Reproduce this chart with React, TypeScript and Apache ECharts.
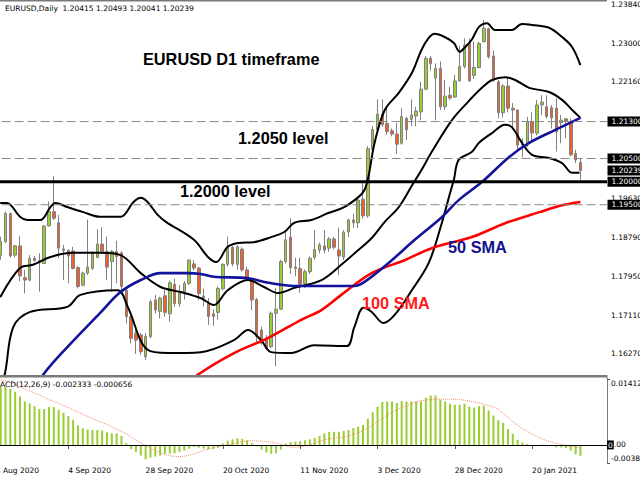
import React, { useEffect, useRef } from "react";
import * as echarts from "echarts";

// ---------- categories (trading days) ----------
const augDays = [13, 14, 17, 18, 19, 20, 21, 24, 25, 26, 27, 28, 31];
const sepDays = [1, 2, 3, 4, 7, 8, 9, 10, 11, 14, 15, 16, 17, 18, 21, 22, 23, 24, 25, 28, 29, 30];
const octDays = [1, 2, 5, 6, 7, 8, 9, 12, 13, 14, 15, 16, 19, 20, 21, 22, 23, 26, 27, 28, 29, 30];
const novDays = [2, 3, 4, 5, 6, 9, 10, 11, 12, 13, 16, 17, 18, 19, 20, 23, 24, 25, 26, 27, 30];
const decDays = [1, 2, 3, 4, 7, 8, 9, 10, 11, 14, 15, 16, 17, 18, 21, 22, 23, 24, 28, 29, 30, 31];
const janDays = [4, 5, 6, 7, 8, 11, 12, 13, 14, 15, 18, 19, 20, 21, 22, 25, 26, 27, 28, 29];
const febDays = [1, 2, 3];
const shiftBars = 5; // empty space on the right (chart shift)
const labelEvery = 16;

// ---------- candles ----------
const opens = [
  1.1785, 1.1812, 1.1841, 1.1870, 1.1931, 1.1841, 1.1861, 1.1792, 1.1787, 1.1834,
  1.1829, 1.1823, 1.1904, 1.1935, 1.1911, 1.1854, 1.1851, 1.1850, 1.1814, 1.1776,
  1.1802, 1.1812, 1.1836, 1.1865, 1.1849, 1.1827, 1.1849, 1.1846, 1.1765, 1.1708,
  1.1672, 1.1668, 1.1621, 1.1665, 1.1744, 1.1719, 1.1753, 1.1714, 1.1778, 1.1736,
  1.1762, 1.1780, 1.1822, 1.1813, 1.1752, 1.1737, 1.1714, 1.1717, 1.1768, 1.1821,
  1.1858, 1.1821, 1.1854, 1.1809, 1.1787, 1.1745, 1.1679, 1.1661, 1.1643, 1.1715,
  1.1724, 1.1827, 1.1880, 1.1815, 1.1812, 1.1779, 1.1805, 1.1836, 1.1852, 1.1861,
  1.1856, 1.1876, 1.1852, 1.1837, 1.1891, 1.1917, 1.1911, 1.1962, 1.1926, 1.2070,
  1.2113, 1.2146, 1.2126, 1.2110, 1.2103, 1.2083, 1.2137, 1.2135, 1.2142, 1.2151,
  1.2200, 1.2267, 1.2224, 1.2245, 1.2162, 1.2187, 1.2183, 1.2218, 1.2249, 1.2299,
  1.2230, 1.2247, 1.2303, 1.2331, 1.2272, 1.2216, 1.2149, 1.2207, 1.2159, 1.2155,
  1.2079, 1.2083, 1.2130, 1.2105, 1.2166, 1.2162, 1.2160, 1.2159, 1.2128, 1.2136,
  1.2128, 1.2061, 1.20415,
];
const closes = [
  1.1812, 1.1842, 1.1870, 1.1931, 1.1839, 1.1861, 1.1796, 1.1787, 1.1834, 1.1829,
  1.1825, 1.1904, 1.1935, 1.1921, 1.1856, 1.1851, 1.1839, 1.1812, 1.1773, 1.1802,
  1.1815, 1.1845, 1.1865, 1.1849, 1.1815, 1.1849, 1.1838, 1.1773, 1.1708, 1.1661,
  1.1657, 1.1632, 1.1665, 1.1740, 1.1722, 1.1748, 1.1717, 1.1781, 1.1736, 1.1762,
  1.1780, 1.1830, 1.1813, 1.1758, 1.1748, 1.1708, 1.1708, 1.1769, 1.1821, 1.1858,
  1.1822, 1.1859, 1.1809, 1.1789, 1.1744, 1.1665, 1.1650, 1.1639, 1.1715, 1.1724,
  1.1827, 1.1874, 1.1814, 1.1812, 1.1778, 1.1805, 1.1834, 1.1853, 1.1863, 1.1852,
  1.1876, 1.1858, 1.1839, 1.1891, 1.1917, 1.1911, 1.1960, 1.1926, 1.2071, 1.2113,
  1.2146, 1.2123, 1.2108, 1.2103, 1.2081, 1.2141, 1.2112, 1.2144, 1.2153, 1.2200,
  1.2267, 1.2255, 1.2245, 1.2162, 1.2185, 1.2181, 1.2218, 1.2249, 1.2296, 1.2218,
  1.2247, 1.2299, 1.2332, 1.2270, 1.2220, 1.2149, 1.2207, 1.2159, 1.2155, 1.2079,
  1.2081, 1.2130, 1.2105, 1.2166, 1.2172, 1.2141, 1.2138, 1.2108, 1.2133, 1.2131,
  1.2058, 1.2047, 1.20239,
];
const lows = [
  1.1775, 1.1805, 1.1831, 1.1867, 1.1836, 1.1836, 1.1784, 1.1758, 1.1784, 1.1827,
  1.1762, 1.1822, 1.1903, 1.1917, 1.1834, 1.1787, 1.1780, 1.1810, 1.1769, 1.1773,
  1.1798, 1.1809, 1.1834, 1.1845, 1.1787, 1.1762, 1.1780, 1.1765, 1.1693, 1.1650,
  1.1627, 1.1625, 1.1614, 1.1661, 1.1715, 1.1704, 1.1708, 1.1697, 1.1729, 1.1729,
  1.1745, 1.1776, 1.1808, 1.1744, 1.1730, 1.1690, 1.1688, 1.1701, 1.1765, 1.1816,
  1.1817, 1.1809, 1.1805, 1.1786, 1.1722, 1.1650, 1.1647, 1.1636, 1.1639, 1.1600,
  1.1722, 1.1823, 1.1800, 1.1795, 1.1760, 1.1770, 1.1800, 1.1831, 1.1845, 1.1845,
  1.1848, 1.1853, 1.1798, 1.1830, 1.1880, 1.1900, 1.1900, 1.1920, 1.1922, 1.2060,
  1.2105, 1.2118, 1.2101, 1.2098, 1.2060, 1.2080, 1.2090, 1.2120, 1.2120, 1.2133,
  1.2199, 1.2240, 1.2133, 1.2155, 1.2155, 1.2177, 1.2181, 1.2216, 1.2245, 1.2216,
  1.2222, 1.2245, 1.2301, 1.2266, 1.2216, 1.2137, 1.2139, 1.2150, 1.2112, 1.2069,
  1.2053, 1.2075, 1.2090, 1.2100, 1.2144, 1.2137, 1.2115, 1.2065, 1.2083, 1.2094,
  1.2055, 1.2040, 1.20041,
];
const highs = [
  1.1830, 1.1850, 1.1881, 1.1935, 1.1933, 1.1863, 1.1882, 1.1809, 1.1841, 1.1839,
  1.1845, 1.1906, 1.1957, 1.2012, 1.1928, 1.1863, 1.1854, 1.1859, 1.1817, 1.1805,
  1.1918, 1.1849, 1.1897, 1.1901, 1.1881, 1.1852, 1.1872, 1.1849, 1.1769, 1.1719,
  1.1679, 1.1672, 1.1672, 1.1744, 1.1755, 1.1751, 1.1765, 1.1786, 1.1790, 1.1776,
  1.1785, 1.1832, 1.1830, 1.1816, 1.1768, 1.1748, 1.1724, 1.1773, 1.1823, 1.1881,
  1.1861, 1.1862, 1.1858, 1.1816, 1.1789, 1.1748, 1.1686, 1.1668, 1.1719, 1.1770,
  1.1831, 1.1895, 1.1921, 1.1835, 1.1835, 1.1810, 1.1838, 1.1895, 1.1868, 1.1895,
  1.1880, 1.1880, 1.1900, 1.1895, 1.1920, 1.1930, 1.1965, 1.2000, 1.2077, 1.2120,
  1.2178, 1.2178, 1.2162, 1.2115, 1.2127, 1.2159, 1.2140, 1.2178, 1.2162, 1.2216,
  1.2272, 1.2272, 1.2256, 1.2260, 1.2220, 1.2205, 1.2231, 1.2294, 1.2310, 1.2310,
  1.2303, 1.2303, 1.2350, 1.2333, 1.2284, 1.2220, 1.2211, 1.2226, 1.2170, 1.2157,
  1.2094, 1.2140, 1.2150, 1.2177, 1.2187, 1.2187, 1.2166, 1.2180, 1.2144, 1.2137,
  1.2137, 1.2069, 1.20493,
];

// ---------- indicators as [bar index, value] ----------
const bbUpper: [number, number][] = [
  [1.9, 1.1954], [3.3, 1.1954], [6.0, 1.1924], [7.5, 1.1917], [10.2, 1.1917], [12.3, 1.1945],
  [13.3, 1.1954], [15.8, 1.1945], [19.1, 1.1934], [22.6, 1.1924], [26.8, 1.1924], [29.5, 1.1956],
  [31.0, 1.1965], [32.4, 1.1956], [34.5, 1.1928], [36.2, 1.1913], [42.0, 1.1874], [44.9, 1.1837],
  [46.6, 1.1826], [49.0, 1.1859], [51.1, 1.1867], [54.4, 1.1869], [58.0, 1.1880], [60.7, 1.1891],
  [62.8, 1.1911], [66.3, 1.1917], [69.8, 1.1932], [73.1, 1.1945], [76.1, 1.1967], [77.3, 1.1982],
  [78.1, 1.2010], [79.4, 1.2084], [81.5, 1.2155], [84.4, 1.2192], [87.1, 1.2235], [89.1, 1.2285],
  [90.6, 1.2311], [91.8, 1.2320], [93.9, 1.2313], [95.8, 1.2300], [97.0, 1.2281], [98.1, 1.2291],
  [99.5, 1.2307], [101.0, 1.2335], [102.7, 1.2343], [104.3, 1.2328], [107.8, 1.2328], [109.9, 1.2341],
  [112.0, 1.2339], [115.5, 1.2333], [118.2, 1.2313], [120.3, 1.2291], [122.0, 1.2252],
];
const bbMiddle: [number, number][] = [
  [1.9, 1.1750], [6.0, 1.1813], [8.7, 1.1820], [12.3, 1.1837], [17.0, 1.1846], [22.6, 1.1846],
  [26.8, 1.1841], [31.0, 1.1802], [35.1, 1.1772], [39.3, 1.1761], [43.4, 1.1748], [46.1, 1.1733],
  [49.0, 1.1765], [53.2, 1.1787], [56.5, 1.1772], [59.4, 1.1759], [62.8, 1.1770], [68.4, 1.1787],
  [72.5, 1.1820], [75.6, 1.1848], [78.8, 1.1878], [81.5, 1.1913], [84.4, 1.1945], [87.1, 1.1991],
  [89.1, 1.2025], [91.2, 1.2064], [95.4, 1.2133], [98.5, 1.2170], [101.6, 1.2203], [103.7, 1.2220],
  [106.4, 1.2226], [108.5, 1.2220], [111.4, 1.2203], [115.5, 1.2194], [118.2, 1.2177], [120.3, 1.2155],
  [122.0, 1.2138],
];
const bbLower: [number, number][] = [
  [1.5, 1.1540], [2.9, 1.1586], [4.6, 1.1685], [8.1, 1.1718], [15.8, 1.1729], [18.5, 1.1755],
  [26.2, 1.1765], [28.3, 1.1729], [32.4, 1.1636], [36.6, 1.1629], [43.4, 1.1631], [50.3, 1.1657],
  [53.2, 1.1679], [55.9, 1.1657], [58.0, 1.1631], [62.1, 1.1629], [66.9, 1.1646], [73.6, 1.1644],
  [75.2, 1.1685], [77.1, 1.1727], [78.8, 1.1718], [81.2, 1.1694], [83.5, 1.1711], [87.1, 1.1765],
  [90.6, 1.1824], [93.3, 1.1910], [94.8, 1.1967], [95.8, 1.2004], [96.8, 1.2047], [99.5, 1.2064],
  [101.0, 1.2084], [103.7, 1.2105], [106.4, 1.2123], [107.8, 1.2118], [109.9, 1.2084], [112.0, 1.2058],
  [115.5, 1.2051], [118.2, 1.2040], [120.3, 1.2019], [121.8, 1.2019],
];
const sma50: [number, number][] = [
  [8.0, 1.1530], [10.8, 1.1582], [15.8, 1.1642], [22.6, 1.1716], [26.8, 1.1761], [31.0, 1.1787],
  [35.1, 1.1802], [40.7, 1.1802], [43.4, 1.1800], [46.1, 1.1794], [53.2, 1.1791], [57.4, 1.1781],
  [62.8, 1.1774], [68.4, 1.1774], [75.2, 1.1774], [77.3, 1.1783], [82.3, 1.1824], [87.7, 1.1874],
  [93.3, 1.1923], [96.8, 1.1960], [101.6, 1.1999], [107.2, 1.2053], [111.4, 1.2084], [116.8, 1.2112],
  [122.0, 1.2138],
];
const sma100: [number, number][] = [
  [38.0, 1.1540], [42.8, 1.1582], [50.3, 1.1629], [57.4, 1.1662], [64.2, 1.1701], [68.4, 1.1722],
  [72.5, 1.1755], [78.8, 1.1802], [85.6, 1.1830], [91.2, 1.1856], [99.5, 1.1880], [106.4, 1.1910],
  [113.5, 1.1934], [118.2, 1.1949], [122.0, 1.1956],
];

// ---------- MACD(12,26,9) ----------
const macdMain = [
  0.0128, 0.0130, 0.0124, 0.0125, 0.0120, 0.0114, 0.0104, 0.0093, 0.0089, 0.0083,
  0.0077, 0.0077, 0.0081, 0.0081, 0.0075, 0.0069, 0.0062, 0.0054, 0.0042, 0.0036,
  0.0033, 0.0032, 0.0032, 0.0031, 0.0027, 0.0025, 0.0025, 0.0019, 0.0004, -0.0009,
  -0.0015, -0.0023, -0.0031, -0.0027, -0.0025, -0.0023, -0.0019, -0.0019, -0.0018, -0.0015,
  -0.0012, -0.0008, -0.0004, -0.0006, -0.0008, -0.0009, -0.0009, -0.0006, 0.0003, 0.0009,
  0.0012, 0.0014, 0.0013, 0.0010, 0.0004, -0.0003, -0.0010, -0.0016, -0.0019, -0.0018,
  -0.0010, 0.0003, 0.0006, 0.0007, 0.0008, 0.0010, 0.0012, 0.0015, 0.0019, 0.0025,
  0.0028, 0.0028, 0.0028, 0.0030, 0.0032, 0.0036, 0.0039, 0.0043, 0.0056, 0.0070,
  0.0082, 0.0092, 0.0093, 0.0093, 0.0090, 0.0094, 0.0093, 0.0093, 0.0093, 0.0093,
  0.0101, 0.0106, 0.0106, 0.0097, 0.0093, 0.0088, 0.0086, 0.0086, 0.0088, 0.0082,
  0.0080, 0.0083, 0.0084, 0.0074, 0.0063, 0.0053, 0.0047, 0.0034, 0.0024, 0.0011,
  0.0005, 0.0002, 0.0000, 0.0000, 0.0001, 0.0000, -0.0002, -0.0005, -0.0005, -0.0007,
  -0.0012, -0.0020, -0.002333,
];
const macdSignal = [
  0.0141, 0.0140, 0.0139, 0.0137, 0.0134, 0.0129, 0.0124, 0.0120, 0.0115, 0.0111,
  0.0107, 0.0102, 0.0097, 0.0093, 0.0089, 0.0084, 0.0080, 0.0075, 0.0070, 0.0066,
  0.0061, 0.0057, 0.0052, 0.0048, 0.0044, 0.0039, 0.0033, 0.0029, 0.0024, 0.0017,
  0.0010, 0.0004, -0.0002, -0.0007, -0.0012, -0.0017, -0.0021, -0.0023, -0.0025, -0.0025,
  -0.0024, -0.0022, -0.0019, -0.0016, -0.0012, -0.0009, -0.0006, -0.0004, -0.0002, 0.0000,
  0.0002, 0.0005, 0.0007, 0.0008, 0.0009, 0.0009, 0.0008, 0.0007, 0.0006, 0.0004,
  0.0001, -0.0002, -0.0005, -0.0005, -0.0004, -0.0002, 0.0000, 0.0004, 0.0008, 0.0011,
  0.0013, 0.0015, 0.0016, 0.0017, 0.0019, 0.0022, 0.0026, 0.0030, 0.0036, 0.0043,
  0.0050, 0.0057, 0.0064, 0.0070, 0.0075, 0.0080, 0.0084, 0.0088, 0.0092, 0.0095,
  0.0096, 0.0097, 0.0098, 0.0098, 0.0098, 0.0098, 0.0098, 0.0097, 0.0096, 0.0094,
  0.0092, 0.0090, 0.0087, 0.0084, 0.0081, 0.0077, 0.0068, 0.0059, 0.0050, 0.0042,
  0.0035, 0.0029, 0.0023, 0.0018, 0.0013, 0.0009, 0.0006, 0.0003, 0.0001, -0.0001,
  -0.0003, -0.0005, -0.000656,
];

// ---------- axes ----------
const priceMin = 1.15815;
const priceMax = 1.23931;
const priceTicks = [1.2384, 1.23, 1.2216, 1.1963, 1.1879, 1.1795, 1.1711, 1.1627];
const dashedLevels = [1.213, 1.205, 1.195];
const keyLevel = 1.2;
const macdMin = -0.00387;
const macdMax = 0.01412;

const SMALL = '"DejaVu Sans", Tahoma, sans-serif';
const BOLD = '"Liberation Sans", Arial, sans-serif';
const BULL = "#9ACD32";
const BEAR = "#F0602A";
const FRAME = "#7a7a7a";
const AXIS_FS = 7.5;

function buildCategories(): string[] {
  const blocks: [number[], string, number][] = [
    [augDays, "Aug", 2020], [sepDays, "Sep", 2020], [octDays, "Oct", 2020],
    [novDays, "Nov", 2020], [decDays, "Dec", 2020], [janDays, "Jan", 2021], [febDays, "Feb", 2021],
  ];
  const out: string[] = [];
  blocks.forEach(([days, m, y]) => days.forEach((d) => out.push(`${d} ${m} ${y}`)));
  for (let k = 0; k < shiftBars; k++) out.push(`shift${k}`);
  return out;
}

function buildOption() {
  const categories = buildCategories();
  const nBars = opens.length;
  const n = categories.length;
  const candles = opens.map((o, i) => [o, closes[i], lows[i], highs[i]]);
  const showLabel = (idx: number) => idx % labelEvery === 0 && idx < nBars;
  const gridLeft = -11.4;
  const gridRight = 33;

  const boxStyle = {
    color: "#fff",
    backgroundColor: "#000",
    padding: [1, 4, 0, 4],
    fontSize: AXIS_FS,
    lineHeight: 9,
    fontFamily: SMALL,
  };

  const levelSeries = (v: number, lineStyle: any) => ({
    type: "line",
    xAxisIndex: 2,
    yAxisIndex: 0,
    data: [[-0.5, v], [n - 0.5, v]],
    symbol: "none",
    showSymbol: false,
    silent: true,
    clip: false,
    z: 5,
    lineStyle,
    endLabel: { show: true, distance: 0.5, formatter: () => v.toFixed(5), ...boxStyle },
  });

  const lineSeries = (data: [number, number][], color: string, width: number) => ({
    type: "line",
    xAxisIndex: 2,
    yAxisIndex: 0,
    data,
    smooth: 0.35,
    showSymbol: false,
    symbol: "none",
    silent: true,
    z: 4,
    lineStyle: { color, width },
  });

  const last = nBars - 1;
  const titleText = `EURUSD,Daily  ${opens[last].toFixed(5)} ${highs[last].toFixed(5)} ${lows[last].toFixed(5)} ${closes[last].toFixed(5)}`;
  const macdText = `MACD(12,26,9) ${macdMain[last].toFixed(6)} ${macdSignal[last].toFixed(6)}`;

  const txt = (text: string, x: number, y: number, font: string, fill: string) => ({
    type: "text",
    x,
    y,
    silent: true,
    z: 100,
    style: { text, font, fill, align: "left", verticalAlign: "middle", textAlign: "left", textVerticalAlign: "middle" },
  });
  const boldFont = `bold 16.3px ${BOLD}`;

  return {
    animation: false,
    backgroundColor: "#ffffff",
    grid: [
      { left: gridLeft, right: gridRight, top: 0, height: 375, outerBoundsMode: "none", containLabel: false },
      { left: gridLeft, right: gridRight, top: 379, height: 84, outerBoundsMode: "none", containLabel: false },
    ],
    xAxis: [
      { type: "category", gridIndex: 0, data: categories, boundaryGap: true, show: false },
      {
        type: "category",
        gridIndex: 1,
        data: categories,
        boundaryGap: true,
        axisLine: { show: true, lineStyle: { color: FRAME, width: 1 } },
        axisTick: { show: true, alignWithLabel: true, length: 4, interval: (i: number) => showLabel(i), lineStyle: { color: "#555" } },
        axisLabel: {
          show: true,
          interval: (i: number) => showLabel(i),
          align: "left",
          margin: 3,
          color: "#000",
          fontSize: 7.5,
          fontFamily: SMALL,
          hideOverlap: false,
        },
        splitLine: { show: false },
      },
      { type: "value", gridIndex: 0, min: -0.5, max: n - 0.5, show: false },
    ],
    yAxis: [
      {
        type: "value",
        gridIndex: 0,
        position: "right",
        min: priceMin,
        max: priceMax,
        splitLine: { show: false },
        axisLine: { show: true, lineStyle: { color: FRAME, width: 1 } },
        axisTick: { show: true, length: 3, customValues: priceTicks, lineStyle: { color: "#555" } },
        axisLabel: {
          show: true,
          customValues: priceTicks,
          margin: 4,
          color: "#000",
          fontSize: AXIS_FS,
          fontFamily: SMALL,
          formatter: (v: number) => v.toFixed(5),
        },
      },
      {
        type: "value",
        gridIndex: 1,
        position: "right",
        min: macdMin,
        max: macdMax,
        splitLine: { show: false },
        axisLine: { show: true, lineStyle: { color: FRAME, width: 1 } },
        axisTick: { show: true, length: 3, customValues: [macdMax, macdMin], lineStyle: { color: "#555" } },
        axisLabel: {
          show: true,
          customValues: [macdMax, macdMin],
          margin: 4,
          color: "#000",
          fontSize: AXIS_FS,
          fontFamily: SMALL,
          formatter: (v: number) => (v > 0 ? `{top|${v.toFixed(5)}}` : `{bot|${v.toFixed(5)}}`),
          rich: {
            top: { padding: [9, 0, 0, 0], fontSize: AXIS_FS, fontFamily: SMALL, color: "#000" },
            bot: { padding: [0, 0, 9, 0], fontSize: AXIS_FS, fontFamily: SMALL, color: "#000" },
          },
        },
      },
    ],
    series: [
      {
        type: "candlestick",
        xAxisIndex: 0,
        yAxisIndex: 0,
        data: candles,
        barWidth: 3,
        z: 2,
        itemStyle: {
          color: BULL,
          color0: BEAR,
          borderColor: "#808080",
          borderColor0: "#808080",
          borderWidth: 1,
        },
      },
      ...dashedLevels.map((v) => levelSeries(v, { color: "#8a8a8a", width: 1, type: [9, 4] })),
      lineSeries(bbUpper, "#000", 2),
      lineSeries(bbMiddle, "#000", 2),
      lineSeries(bbLower, "#000", 2),
      lineSeries(sma100, "#FF0000", 2.6),
      lineSeries(sma50, "#12129A", 2.6),
      levelSeries(keyLevel, { color: "#000", width: 3, type: "solid" }),
      levelSeries(closes[last], { color: "#000", width: 1, opacity: 0 }),
      {
        type: "bar",
        xAxisIndex: 1,
        yAxisIndex: 1,
        data: macdMain,
        barWidth: 2,
        itemStyle: { color: BULL },
        silent: true,
        markLine: {
          silent: true,
          symbol: "none",
          animation: false,
          data: [
            {
              yAxis: 0,
              lineStyle: { color: "#000", width: 1.2, type: "solid" },
              label: {
                show: true,
                position: "end",
                distance: 0,
                formatter: () => "{b|0}{t|.00}",
                rich: {
                  b: { backgroundColor: "#000", color: "#fff", padding: [1, 1, 0, 1], fontSize: AXIS_FS, fontFamily: SMALL },
                  t: { color: "#000", fontSize: AXIS_FS, fontFamily: SMALL },
                },
              },
            },
          ],
        },
      },
      {
        type: "line",
        xAxisIndex: 1,
        yAxisIndex: 1,
        data: macdSignal,
        showSymbol: false,
        symbol: "none",
        silent: true,
        z: 3,
        lineStyle: { color: "#F58A68", width: 1, type: "dotted" },
      },
    ],
    graphic: [
      { type: "rect", shape: { x: 0, y: 0, width: 607, height: 1.5 }, style: { fill: FRAME }, silent: true, z: 50 },
      { type: "rect", shape: { x: 0, y: 375, width: 607, height: 2.5 }, style: { fill: FRAME }, silent: true, z: 50 },
      { type: "rect", shape: { x: 606.5, y: 375, width: 1, height: 4 }, style: { fill: FRAME }, silent: true, z: 50 },
      txt(titleText, 5, 8.5, `7.5px ${SMALL}`, "#000"),
      txt(macdText, -6.5, 384, `7.5px ${SMALL}`, "#000"),
      txt("EURUSD D1 timeframe", 143, 59, boldFont, "#000"),
      txt("1.2050 level", 238, 138, boldFont, "#000"),
      txt("1.2000 level", 180, 191, boldFont, "#000"),
      txt("50 SMA", 448, 247, boldFont, "#12128C"),
      txt("100 SMA", 362, 303, boldFont, "#FF1A1A"),
    ],
  };
}

export default function App() {
  const ref = useRef<HTMLDivElement>(null);
  useEffect(() => {
    if (!ref.current) return;
    const chart = echarts.init(ref.current, null, { renderer: "svg" });
    chart.setOption(buildOption() as any);
    return () => chart.dispose();
  }, []);
  return (
    <div
      ref={ref}
      style={{ position: "fixed", left: 0, top: 0, width: 640, height: 480, background: "#fff", overflow: "hidden" }}
    />
  );
}
